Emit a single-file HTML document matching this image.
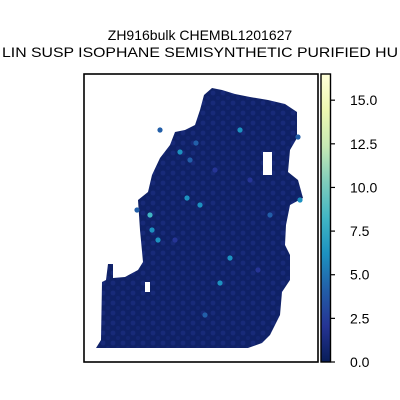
<!DOCTYPE html>
<html><head><meta charset="utf-8"><style>
html,body{margin:0;padding:0;background:#fff;width:400px;height:400px;overflow:hidden}
text{font-family:"Liberation Sans","DejaVu Sans",sans-serif}
</style></head><body>
<svg id="chart" width="400" height="400" viewBox="0 0 400 400" xmlns="http://www.w3.org/2000/svg">
<defs>
<linearGradient id="ylgnbu" x1="0" y1="1" x2="0" y2="0">
<stop offset="0" stop-color="#081d58"/><stop offset="0.125" stop-color="#253494"/>
<stop offset="0.25" stop-color="#225ea8"/><stop offset="0.375" stop-color="#1d91c0"/>
<stop offset="0.5" stop-color="#41b6c4"/><stop offset="0.625" stop-color="#7fcdbb"/>
<stop offset="0.75" stop-color="#c7e9b4"/><stop offset="0.875" stop-color="#edf8b1"/>
<stop offset="1" stop-color="#ffffd9"/></linearGradient>
<pattern id="tex" width="10" height="10" patternUnits="userSpaceOnUse">
<rect width="10" height="10" fill="#0f2166"/><circle cx="3" cy="3" r="2.4" fill="#1c2d82" opacity="0.7"/><circle cx="8" cy="8" r="2" fill="#182a7a" opacity="0.6"/></pattern>
</defs>
<text x="200" y="40" font-size="14" text-anchor="middle">ZH916bulk CHEMBL1201627</text>
<text x="2" y="57" font-size="14" textLength="396" lengthAdjust="spacingAndGlyphs">LIN SUSP ISOPHANE SEMISYNTHETIC PURIFIED HU</text>
<g>
<path fill="url(#tex)" d="M96,348 L101,340 L102,282 L106,280 L108,264 L113,264 L113,278 L125,277 L138,270 L143,262 L140,230 L138,200 L148,192 L152,175 L160,158 L170,145 L175,132 L185,130 L195,125 L200,110 L204,95 L212,88 L222,90 L235,94 L250,97 L268,100 L285,104 L297,112 L297,138 L290,150 L288,172 L298,180 L303,198 L290,205 L286,225 L285,245 L290,255 L290,280 L282,292 L280,315 L275,325 L270,335 L262,343 L248,348 Z"/>
<path fill="#fff" d="M263,152 L272,152 L272,175 L263,175 Z"/>
<path fill="#fff" d="M145,282 L150,282 L150,292 L145,292 Z"/>
<g id="spots"></g>
</g>
<rect x="84" y="74" width="234" height="288" fill="none" stroke="#000" stroke-width="1.6"/>
<rect x="321" y="74" width="9.5" height="288" fill="url(#ylgnbu)" stroke="#000" stroke-width="1.4"/>
<g id="cbticks"></g>
</svg>
<script>
const tickValues=[0,2.5,5,7.5,10,12.5,15];
const tickLabels=["0.0","2.5","5.0","7.5","10.0","12.5","15.0"];
const spotX=[180,196,187,150,152,158,240,200,230,220,270,300,298,205,250,160,137,175,190,258,215];
const spotY=[152,143,198,215,230,240,130,205,258,283,215,200,137,315,180,130,210,240,160,270,170];
const spotV=[6,5,7,8,7,6.5,7,6,6,5.5,5,6.5,5,4,3,3.5,4,3,3.5,3,3];
const cmap=["#081d58","#253494","#225ea8","#1d91c0","#41b6c4","#7fcdbb","#c7e9b4","#edf8b1","#ffffd9"];
const vmax=16.5;
function cy(v){return 362-v*(288/vmax);}
function col(v){let i=Math.min(8,Math.round(v/vmax*8));return cmap[i];}
const ns="http://www.w3.org/2000/svg";
const g=document.getElementById('spots');
for(let i=0;i<spotX.length;i++){
 const c=document.createElementNS(ns,'circle');
 c.setAttribute('cx',spotX[i]);c.setAttribute('cy',spotY[i]);c.setAttribute('r',2.6);
 c.setAttribute('fill',col(spotV[i]));
 
 
 g.appendChild(c);
}
const t=document.getElementById('cbticks');
tickValues.forEach((v,i)=>{
 const l=document.createElementNS(ns,'line');
 l.setAttribute('x1',330.5);l.setAttribute('x2',335);l.setAttribute('y1',cy(v));l.setAttribute('y2',cy(v));
 l.setAttribute('stroke','#000');l.setAttribute('stroke-width',1.2);
 
 
 t.appendChild(l);
 const tx=document.createElementNS(ns,'text');
 tx.setAttribute('x',350);tx.setAttribute('y',cy(v)+5);tx.setAttribute('font-size',14);
 tx.textContent=tickLabels[i];
 
 
 t.appendChild(tx);
});
</script>
</body></html>
